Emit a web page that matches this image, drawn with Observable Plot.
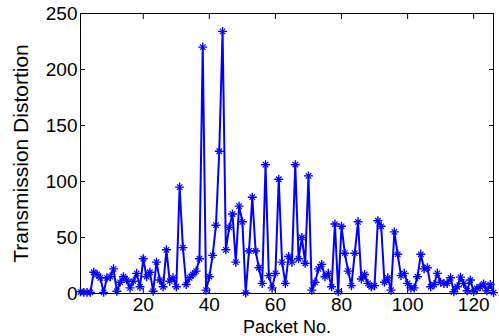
<!DOCTYPE html>
<html><head><meta charset="utf-8">
<script src="https://cdn.jsdelivr.net/npm/d3@7"></script>
<script src="https://cdn.jsdelivr.net/npm/@observablehq/plot@0.6"></script>
<style>body{margin:0;background:#fff}</style>
</head><body><div id="chart"></div>
<script>
const packetNo = [1,2,3,4,5,6,7,8,9,10,11,12,13,14,15,16,17,18,19,20,21,22,23,24,25,26,27,28,29,30,31,32,33,34,35,36,37,38,39,40,41,42,43,44,45,46,47,48,49,50,51,52,53,54,55,56,57,58,59,60,61,62,63,64,65,66,67,68,69,70,71,72,73,74,75,76,77,78,79,80,81,82,83,84,85,86,87,88,89,90,91,92,93,94,95,96,97,98,99,100,101,102,103,104,105,106,107,108,109,110,111,112,113,114,115,116,117,118,119,120,121,122,123,124,125,126];
const distortion = [1.5,1,1,1,19,17,14,1,14,15,22,2,10,15,12,5,11,18,6,31,15,19,2,28,12,6,39,11,14,6,95,41,8,14,17,20,31,220,3,15,34,61,127,234,39,59,71,28,78,64,0.5,38,86,38,23,9,115,16,5,18,102,28,9,33,28,115,31,50,27,105,3,10,22,26,15,18,6,62,1.5,60,36,20,7,36,64,13,17,9,6,7,65,60,10,14,3,55,35,16,18,9,5,5,15,35,22,23,6,8,18,10,9,9,14,1.5,6,14.6,9,2.5,12,1.5,4.5,6,8.6,2.5,8,0.8];
const xTicks = [20,40,60,80,100,120];
const yTicks = [0,50,100,150,200,250];
const xLabel = "Packet No.";
const yLabel = "Transmission Distortion";

const data = packetNo.map((p, i) => ({packet: p, value: distortion[i]}));
const blue = "#0000ff";
const noText = () => "";

const chart = Plot.plot({
  width: 499, height: 336,
  marginLeft: 80, marginRight: 6, marginTop: 13, marginBottom: 43,
  style: {fontFamily: "'Liberation Sans', Arial, sans-serif", fontSize: "19px", background: "white", color: "black", overflow: "visible"},
  x: {domain: [1, 126]},
  y: {domain: [0, 250]},
  marks: [
    Plot.axisX({ticks: xTicks, tickSize: 0, tickPadding: 4, label: null}),
    Plot.axisX({ticks: xTicks, tickSize: 0, tickFormat: noText, label: xLabel, labelAnchor: "center", labelOffset: 39, labelArrow: "none", fontSize: 18}),
    Plot.axisX({ticks: xTicks, tickSize: 5, dy: -5, tickFormat: noText, label: null}),
    Plot.axisX({ticks: xTicks, anchor: "top", tickSize: 5, dy: 5, tickFormat: noText, label: null}),
    Plot.axisY({ticks: yTicks, tickSize: 0, tickPadding: 3, label: null}),
    Plot.axisY({ticks: yTicks, tickSize: 0, tickFormat: noText, label: yLabel, labelAnchor: "center", labelOffset: 67, labelArrow: "none", fontSize: 21}),
    Plot.axisY({ticks: yTicks, tickSize: 5, dx: 5, tickFormat: noText, label: null}),
    Plot.axisY({ticks: yTicks, anchor: "right", tickSize: 5, dx: -5, tickFormat: noText, label: null}),
    Plot.frame({stroke: "black"}),
    Plot.line(data, {x: "packet", y: "value", stroke: blue, strokeWidth: 2}),
    Plot.dot(data, {x: "packet", y: "value", symbol: "plus", r: 3, stroke: blue, strokeWidth: 1.4}),
    Plot.dot(data, {x: "packet", y: "value", symbol: "times", r: 2.6, stroke: blue, strokeWidth: 1.2})
  ]
});
document.getElementById("chart").appendChild(chart);
</script>
</body></html>
